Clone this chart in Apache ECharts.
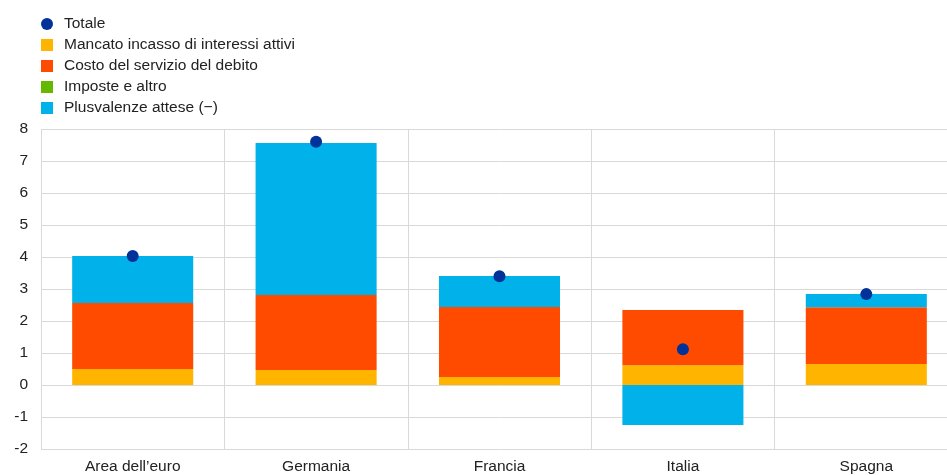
<!DOCTYPE html>
<html>
<head>
<meta charset="utf-8">
<script src="https://cdn.jsdelivr.net/npm/echarts@6/dist/echarts.min.js"></script>
<style>html,body{margin:0;padding:0;background:#fff;overflow:hidden;}#c{width:958px;height:475px;}</style>
</head>
<body>
<div id="c"></div>
<script>
const categories = ["Area dell\u2019euro", "Germania", "Francia", "Italia", "Spagna"];
const totale = [4.03, 7.6, 3.4, 1.12, 2.84];
const mancato = [0.5, 0.47, 0.25, 0.62, 0.66];
const costo = [2.06, 2.34, 2.19, 1.72, 1.77];
const imposte = [0, 0, 0, 0, 0];
const plusvalenze = [1.47, 4.75, 0.97, -1.25, 0.41];
const names = ["Totale", "Mancato incasso di interessi attivi", "Costo del servizio del debito", "Imposte e altro", "Plusvalenze attese (\u2212)"];

const chart = echarts.init(document.getElementById('c'));
const barCommon = {type: 'bar', stack: 'a', barWidth: '66%', emphasis: {disabled: true}};
chart.setOption({
  animation: false,
  textStyle: {fontFamily: 'Arial, Liberation Sans, sans-serif'},
  legend: {
    orient: 'vertical', left: 36, top: 11, itemWidth: 12, itemHeight: 12, itemGap: 5,
    textStyle: {fontSize: 15.5, color: '#222', lineHeight: 14, padding: [0, 0, 0, 6]},
    data: [
      {name: names[0], icon: 'circle'},
      {name: names[1], icon: 'rect'},
      {name: names[2], icon: 'rect'},
      {name: names[3], icon: 'rect'},
      {name: names[4], icon: 'rect'}
    ]
  },
  grid: {left: 41, right: 0, top: 129, bottom: 26, containLabel: false},
  xAxis: {
    type: 'category', data: categories,
    axisLine: {show: false}, axisTick: {show: false},
    axisLabel: {fontSize: 15.5, color: '#222', margin: 10},
    splitLine: {show: true, lineStyle: {color: '#d9d9d9', width: 1}}
  },
  yAxis: {
    type: 'value', min: -2, max: 8, interval: 1,
    axisLine: {show: false}, axisTick: {show: false},
    axisLabel: {fontSize: 15.5, color: '#222', margin: 13},
    splitLine: {lineStyle: {color: '#d9d9d9', width: 1}}
  },
  series: [
    Object.assign({}, barCommon, {name: names[1], data: mancato, itemStyle: {color: '#FFB400'}}),
    Object.assign({}, barCommon, {name: names[2], data: costo, itemStyle: {color: '#FF4B00'}}),
    Object.assign({}, barCommon, {name: names[3], data: imposte, itemStyle: {color: '#65B800'}}),
    Object.assign({}, barCommon, {name: names[4], data: plusvalenze, itemStyle: {color: '#00B1EA'}}),
    {type: 'scatter', name: names[0], data: totale, symbolSize: 12, itemStyle: {color: '#003299', opacity: 1}, z: 10}
  ]
});
</script>
</body>
</html>
